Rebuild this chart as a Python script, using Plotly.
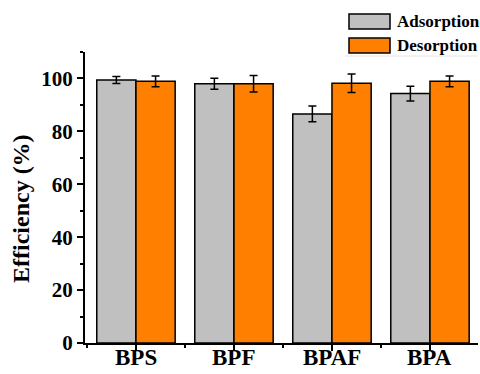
import plotly.graph_objects as go

# Removal / recovery efficiency of four bisphenols
categories = ["BPS", "BPF", "BPAF", "BPA"]
adsorption = [99.4, 98.0, 86.6, 94.3]
adsorption_err = [1.3, 2.1, 3.0, 2.8]
desorption = [98.9, 98.0, 98.2, 98.9]
desorption_err = [2.0, 3.1, 3.5, 2.0]

x_pos = list(range(len(categories)))
FONT = "Liberation Serif"
GRAY = "#c0c0c0"
ORANGE = "#ff8000"

# plot area in pixels
L, T, W, H = 85, 52, 393, 291

fig = go.Figure()
for name, vals, errs, color in [
    ("Adsorption", adsorption, adsorption_err, GRAY),
    ("Desorption", desorption, desorption_err, ORANGE),
]:
    fig.add_trace(go.Bar(
        name=name, x=x_pos, y=vals,
        marker=dict(color=color, line=dict(color="black", width=1.5)),
        error_y=dict(type="data", array=errs, color="black", thickness=1.5, width=4),
        showlegend=False,
    ))

fig.update_layout(
    width=480, height=374,
    margin=dict(l=L, r=480 - L - W, t=T, b=374 - T - H, autoexpand=False),
    paper_bgcolor="white", plot_bgcolor="white",
    barmode="group", bargap=0.2, bargroupgap=0,
    font=dict(family=FONT, color="black", size=20),
)

fig.update_xaxes(
    range=[-0.52, 3.49], tickvals=x_pos, showticklabels=False,
    showline=True, linecolor="black", linewidth=2,
    ticks="outside", ticklen=6, tickwidth=2, tickcolor="black",
    minor=dict(dtick=0.5, tick0=0, ticks="outside", ticklen=3, tickwidth=1.5, tickcolor="black"),
    showgrid=False, zeroline=False, automargin=False,
)
y_ticks = [0, 20, 40, 60, 80, 100]
fig.update_yaxes(
    range=[0, 110], tickvals=y_ticks,
    ticktext=["<b>%d</b>" % v for v in y_ticks],
    showline=True, linecolor="black", linewidth=2,
    ticks="outside", ticklen=6, tickwidth=2, tickcolor="black",
    minor=dict(tickvals=[10, 30, 50, 70, 90, 110], ticks="outside", ticklen=3, tickwidth=1.5, tickcolor="black"),
    tickfont=dict(size=21, family=FONT),
    showgrid=False, zeroline=False, automargin=False,
)

# category labels placed under each group on the x scale
for xi, cat in zip(x_pos, categories):
    fig.add_annotation(
        text="<b>%s</b>" % cat, xref="x", yref="paper",
        x=xi, y=(T + H - 357) / H,
        xanchor="center", yanchor="middle", showarrow=False,
        font=dict(size=23, family=FONT, color="black"),
    )

# y-axis title
fig.add_annotation(
    text="<b>Efficiency (%)</b>", xref="paper", yref="paper",
    x=(21 - L) / W, y=(T + H - 209) / H, textangle=-90,
    xanchor="center", yanchor="middle", showarrow=False,
    font=dict(size=24, family=FONT, color="black"),
)

# Legend drawn as outlined swatches with labels
legend_items = [("Adsorption", GRAY), ("Desorption", ORANGE)]
for i, (label, color) in enumerate(legend_items):
    y_top = 14 + i * 24
    fig.add_shape(
        type="rect", xref="paper", yref="paper",
        x0=(349 - L) / W, x1=(390 - L) / W,
        y0=(T + H - (y_top + 15)) / H, y1=(T + H - y_top) / H,
        fillcolor=color, line=dict(color="black", width=1.5),
    )
    fig.add_annotation(
        text="<b>%s</b>" % label, xref="paper", yref="paper",
        x=(395 - L) / W, y=(T + H - (y_top + 7.5)) / H,
        xanchor="left", yanchor="middle", showarrow=False,
        font=dict(size=17, family=FONT, color="black"),
    )
fig.add_shape(
    type="line", xref="paper", yref="paper",
    x0=(345 - L) / W, x1=1.0, y0=(T + H - 56) / H, y1=(T + H - 56) / H,
    line=dict(color="#e4e4e4", width=1),
)

fig.write_html("out.html")
